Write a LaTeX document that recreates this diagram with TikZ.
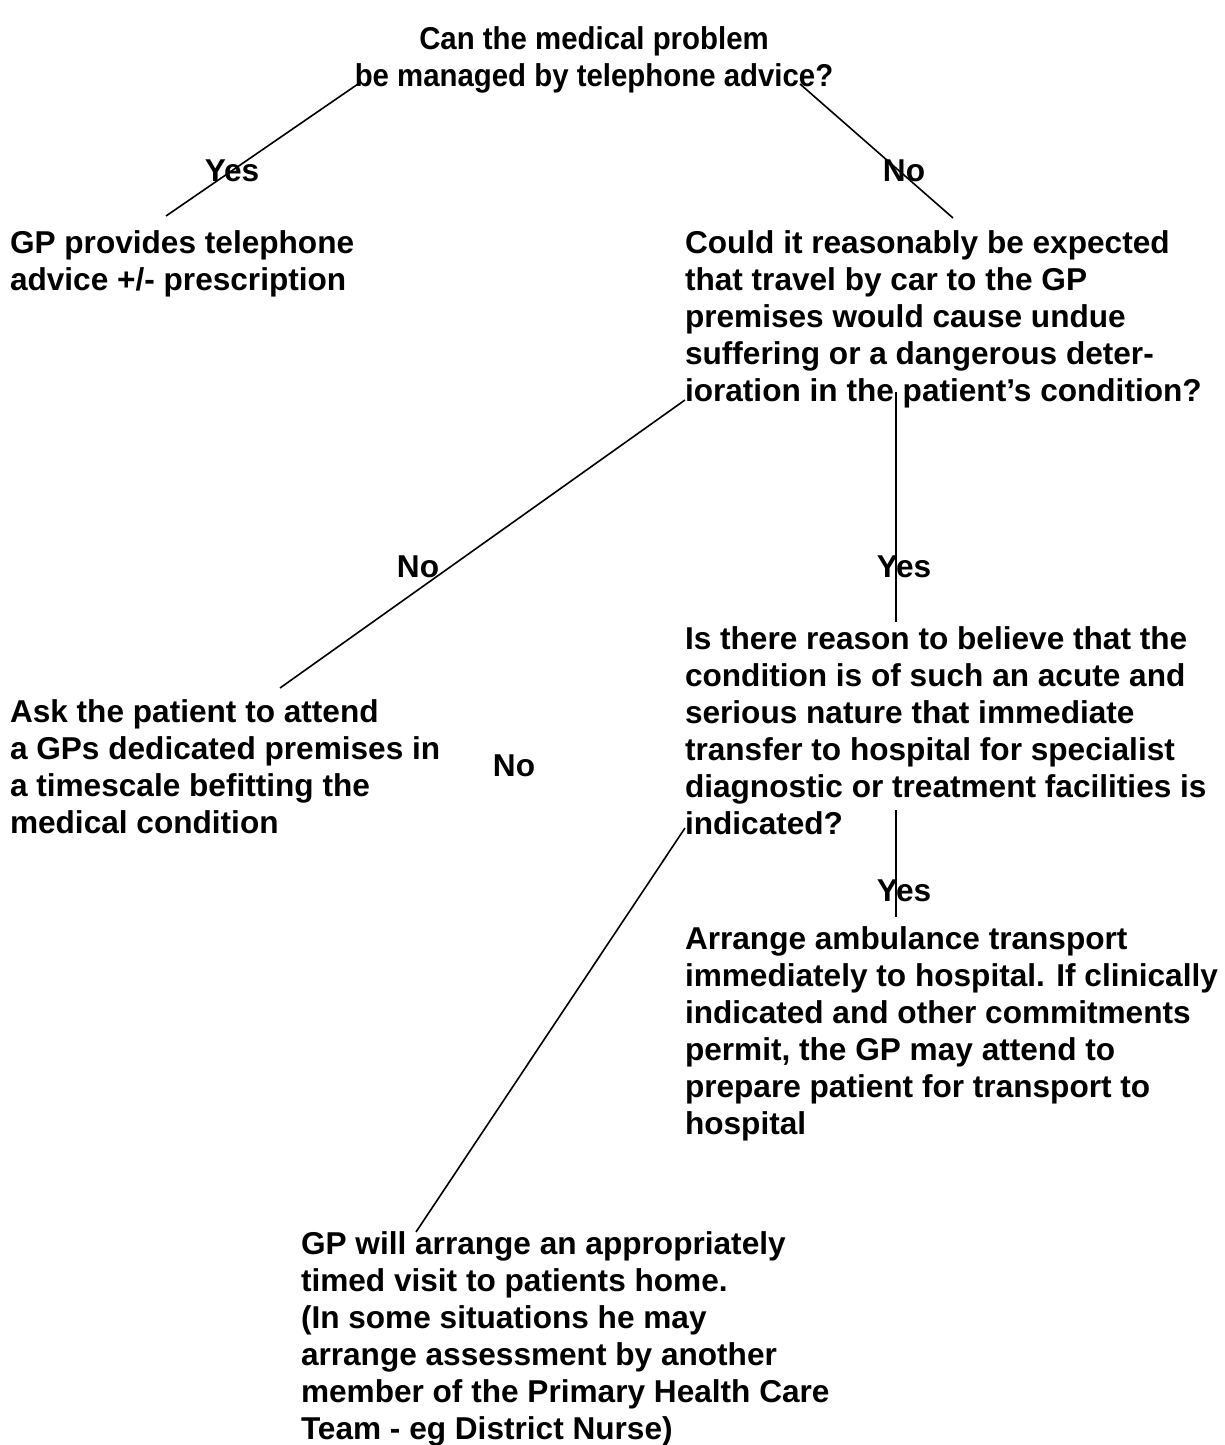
\documentclass[tikz,border=0pt]{standalone}
\usepackage{fontspec}
\setmainfont{Liberation Sans}
\newfontfamily\narrowsans[FakeStretch=0.93]{Liberation Sans}
\begin{document}
\begin{tikzpicture}[x=1pt,y=-1pt,
  txt/.style={inner sep=0pt, outer sep=0pt, font=\fontsize{31.6}{37}\selectfont\bfseries, align=left, anchor=base west},
  lbl/.style={inner sep=0pt, outer sep=0pt, font=\fontsize{31.6}{37}\selectfont\bfseries, anchor=base},
  conn/.style={line width=1.6pt, black}]
\useasboundingbox (0,0) rectangle (1224,1445);
% texts (anchored at the baseline of their last line)
\node[txt, align=center, anchor=base, font=\fontsize{31.6}{37}\selectfont\narrowsans\bfseries] (q1) at (594,86) {Can the medical problem\\be managed by telephone advice?};
\node[txt] (tel) at (10,290) {GP provides telephone\\advice +/- prescription};
\node[txt] (q2) at (685,401) {Could it reasonably be expected\\that travel by car to the GP\\premises would cause undue\\suffering or a dangerous deter-\\ioration in the patient’s condition?};
\node[txt] (ask) at (10,833) {Ask the patient to attend\\a GPs dedicated premises in\\a timescale befitting the\\medical condition};
\node[txt] (q3) at (685,834) {Is there reason to believe that the\\condition is of such an acute and\\serious nature that immediate\\transfer to hospital for specialist\\diagnostic or treatment facilities is\\indicated?};
\node[txt] (amb) at (685,1134) {Arrange ambulance transport\\immediately to hospital.\hspace{0.36em}If clinically\\indicated and other commitments\\permit, the GP may attend to\\prepare patient for transport to\\hospital};
\node[txt] (visit) at (301,1439) {GP will arrange an appropriately\\timed visit to patients home.\\(In some situations he may\\arrange assessment by another\\member of the Primary Health Care\\Team - eg District Nurse)};
% connector end points
\coordinate (a1) at (358,84);  \coordinate (a2) at (166,216);
\coordinate (b1) at (800,84);  \coordinate (b2) at (953,218);
\coordinate (c1) at (685,400); \coordinate (c2) at (280,688);
\coordinate (d1) at (896,392); \coordinate (d2) at (896,622);
\coordinate (e1) at (685,828); \coordinate (e2) at (416,1232);
\coordinate (f1) at (896,810); \coordinate (f2) at (896,917);
\draw[conn] (a1) -- (a2);
\draw[conn] (b1) -- (b2);
\draw[conn] (c1) -- (c2);
\draw[conn] (d1) -- (d2);
\draw[conn] (e1) -- (e2);
\draw[conn] (f1) -- (f2);
% labels
\node[lbl] (y1) at (232,181) {Yes};
\node[lbl] (n1) at (904,181) {No};
\node[lbl] (n2) at (418,577) {No};
\node[lbl] (y2) at (904,577) {Yes};
\node[lbl] (y3) at (904,901) {Yes};
\node[lbl] (n3) at (514,776) {No};
\end{tikzpicture}
\end{document}
